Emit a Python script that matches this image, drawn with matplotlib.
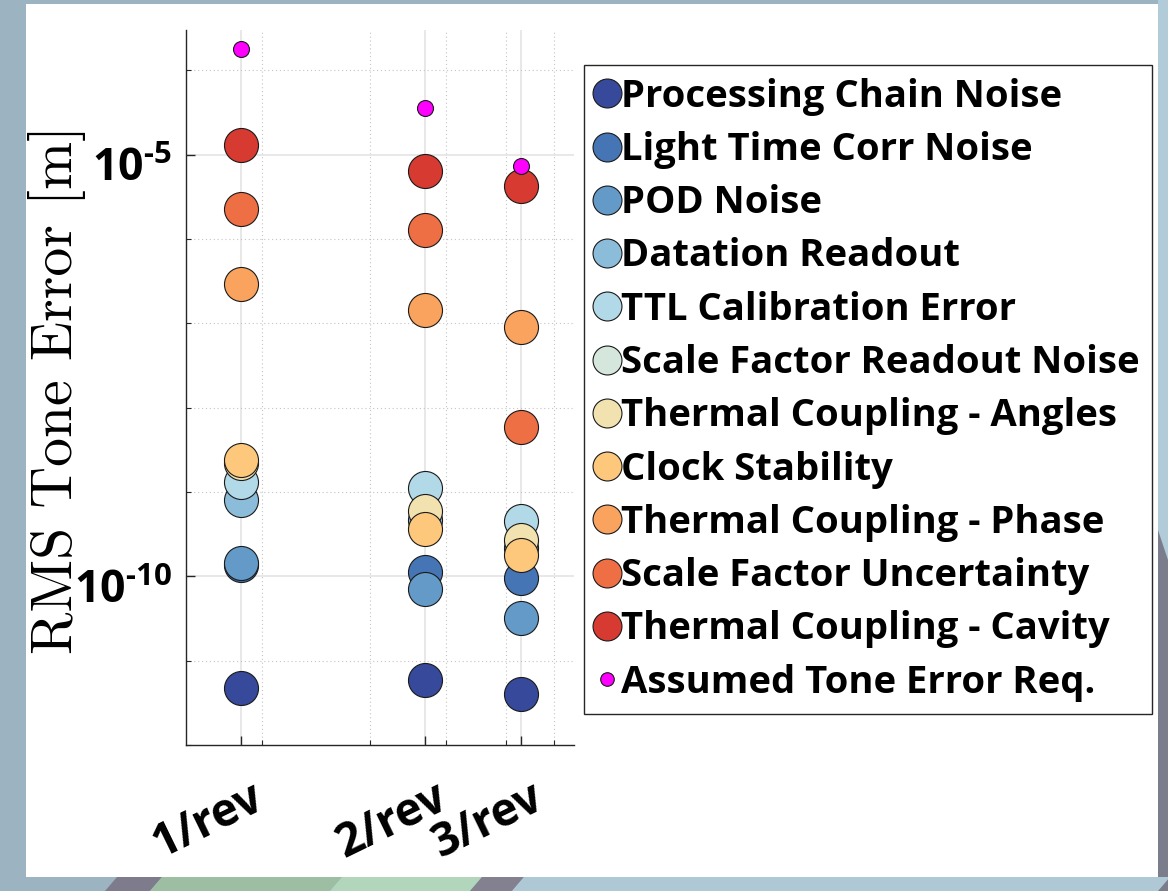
import matplotlib
matplotlib.use("Agg")
import matplotlib.pyplot as plt
from matplotlib.patches import Rectangle, Polygon
from matplotlib.ticker import FixedLocator, FixedFormatter, NullFormatter
from matplotlib.font_manager import FontProperties
from matplotlib.transforms import ScaledTranslation

BOLD_FAMILY = 'Open Sans'
plt.rcParams['mathtext.fontset'] = 'custom'
plt.rcParams['mathtext.rm'] = BOLD_FAMILY + ':bold'
plt.rcParams['mathtext.bf'] = BOLD_FAMILY + ':bold'
plt.rcParams['mathtext.it'] = BOLD_FAMILY + ':bold'

# ---------------- data ----------------
harmonics = ['1/rev', '2/rev', '3/rev']
freq_hz = [1.848e-4, 3.693e-4, 5.29e-4]

series_names = [
    'Processing Chain Noise',
    'Light Time Corr Noise',
    'POD Noise',
    'Datation Readout',
    'TTL Calibration Error',
    'Scale Factor Readout Noise',
    'Thermal Coupling - Angles',
    'Clock Stability',
    'Thermal Coupling - Phase',
    'Scale Factor Uncertainty',
    'Thermal Coupling - Cavity',
]
processing_chain = [4.68e-12, 5.93e-12, 4.05e-12]
light_time_corr = [1.35e-10, 1.12e-10, 9.46e-11]
pod_noise = [1.44e-10, 7.14e-11, 3.20e-11]
datation_readout = [8.0e-10, 4.69e-10, 2.15e-10]
ttl_calibration = [1.30e-9, 1.10e-9, 4.50e-10]
scale_factor_readout = [5e-13, 5e-13, 5e-13]
thermal_angles = [2.2e-9, 5.97e-10, 2.67e-10]
clock_stability = [2.39e-9, 3.68e-10, 1.77e-10]
thermal_phase = [2.94e-7, 1.42e-7, 9.14e-8]
scale_factor_unc = [2.29e-6, 1.26e-6, 5.83e-9]
thermal_cavity = [1.31e-5, 6.46e-6, 4.21e-6]
requirement = [1.80e-4, 3.59e-5, 7.26e-6]
requirement_name = 'Assumed Tone Error Req.'

series_values = [processing_chain, light_time_corr, pod_noise, datation_readout,
                 ttl_calibration, scale_factor_readout, thermal_angles,
                 clock_stability, thermal_phase, scale_factor_unc, thermal_cavity]
series_colors = ['#37499a', '#4575b4', '#649ac7', '#8bbddb', '#b2d9e8', '#d5e6dc',
                 '#f2e2b0', '#fdc77c', '#f9a35e', '#ef6f45', '#d63a30']

y_major = [1e-10, 1e-5]
y_major_labels = [r'$10^{\text{-}10}$', r'$10^{\text{-}5}$']
y_minor = [1e-12, 1e-11, 1e-9, 1e-8, 1e-7, 1e-6, 1e-4]
x_minor = [2e-4, 3e-4, 4e-4, 5e-4, 6e-4]

# ---------------- figure ----------------
W, H = 1168, 891
fig = plt.figure(figsize=(W / 100, H / 100), dpi=100)
fig.patch.set_facecolor('#9cb4c2')

def fx(x):
    return x / W

def fy(y):
    return 1 - y / H

# background decoration
deco = []
deco.append(Rectangle((fx(1158), fy(891)), fx(10), 891 / H, facecolor='#b2cbd8'))
deco.append(Polygon([(fx(1158), fy(530)), (fx(1168), fy(560)), (fx(1168), fy(891)),
                     (fx(1158), fy(891))], closed=True, facecolor='#7c7d8c'))
bands = [((105, 150), '#7e7b8c'), ((150, 330), '#9dbea2'), ((330, 470), '#b2d6bb'),
         ((470, 512), '#838090'), ((512, 1158), '#afc8d6')]
for (x0, x1), c in bands:
    deco.append(Polygon([(fx(x0 + 12), fy(877)), (fx(x1 + 12), fy(877)),
                         (fx(x1), fy(891)), (fx(x0), fy(891))], closed=True, facecolor=c))
deco.append(Rectangle((fx(26), fy(877)), fx(1158 - 26), (877 - 4) / H, facecolor='white'))
for p in deco:
    p.set_transform(fig.transFigure)
    p.set_edgecolor('none')
    p.set_zorder(-5)
    fig.patches.append(p)

ax = fig.add_axes([fx(185.7), fy(745), fx(574 - 185.7), (745 - 30) / H])
ax.set_facecolor('none')
ax.set_xscale('log')
ax.set_yscale('log')
ax.set_xlim(1.5e-4, 6.47e-4)
ax.set_ylim(1e-12, 3e-4)

handles = []
for name, vals, col in zip(series_names, series_values, series_colors):
    h, = ax.plot(freq_hz, vals, linestyle='none', marker='o', markersize=24.5,
                 markerfacecolor=col, markeredgecolor='#1a1a1a', markeredgewidth=0.8,
                 label=name, zorder=3)
    handles.append(h)
h, = ax.plot(freq_hz, requirement, linestyle='none', marker='o', markersize=11.5,
             markerfacecolor='#ff00ff', markeredgecolor='#1a1a1a', markeredgewidth=0.8,
             label=requirement_name, zorder=4)
handles.append(h)

# ticks
ax.xaxis.set_major_locator(FixedLocator(freq_hz))
ax.xaxis.set_major_formatter(FixedFormatter(harmonics))
ax.xaxis.set_minor_locator(FixedLocator(x_minor))
ax.xaxis.set_minor_formatter(NullFormatter())
ax.yaxis.set_major_locator(FixedLocator(y_major))
ax.yaxis.set_major_formatter(FixedFormatter(y_major_labels))
ax.yaxis.set_minor_locator(FixedLocator(y_minor))
ax.yaxis.set_minor_formatter(NullFormatter())

ax.grid(True, which='major', color='#e4e4e4', linewidth=1.2, linestyle='-', zorder=0)
ax.grid(True, which='minor', color='#c4c4c4', linewidth=0.8, linestyle=(0, (1, 2.5)), zorder=0)
ax.set_axisbelow(True)

for s in ['top', 'right']:
    ax.spines[s].set_visible(False)
for s in ['left', 'bottom']:
    ax.spines[s].set_color('#262626')
    ax.spines[s].set_linewidth(1.0)

ax.tick_params(axis='both', which='major', direction='in', length=6.5, width=1.0, color='#262626')
ax.tick_params(axis='both', which='minor', direction='in', length=3.6, width=0.8, color='#262626')
ax.tick_params(axis='y', which='major', pad=10, labelsize=32)
ax.tick_params(axis='x', which='major', pad=0)

for lab in ax.get_yticklabels():
    lab.set_transform(lab.get_transform() + ScaledTranslation(0, -0.09, fig.dpi_scale_trans))

for lab in ax.get_xticklabels():
    lab.set_fontfamily(BOLD_FAMILY)
    lab.set_fontweight('bold')
    lab.set_fontsize(33)
    lab.set_rotation(26)
    lab.set_ha('right')
    lab.set_va('top')
    lab.set_rotation_mode('anchor')
    lab.set_transform(lab.get_transform() + ScaledTranslation(0.09, -0.29, fig.dpi_scale_trans))

fig.text(fx(57), fy(390), 'RMS Tone Error [m]', rotation=90, ha='center', va='center',
         fontfamily='cmr10', fontsize=41.5, color='black')

leg = ax.legend(handles=handles, loc='upper left', bbox_to_anchor=(fx(584), fy(65)),
                bbox_transform=fig.transFigure, borderaxespad=0,
                prop=FontProperties(family=BOLD_FAMILY, weight='bold', size=27.5),
                markerscale=0.85, handlelength=0.55, handletextpad=0.08,
                borderpad=0.33, labelspacing=0.40, frameon=True, fancybox=False,
                framealpha=1, edgecolor='#262626')
leg.get_frame().set_linewidth(1.0)

fig.savefig('out.png', dpi=100, facecolor=fig.get_facecolor())
